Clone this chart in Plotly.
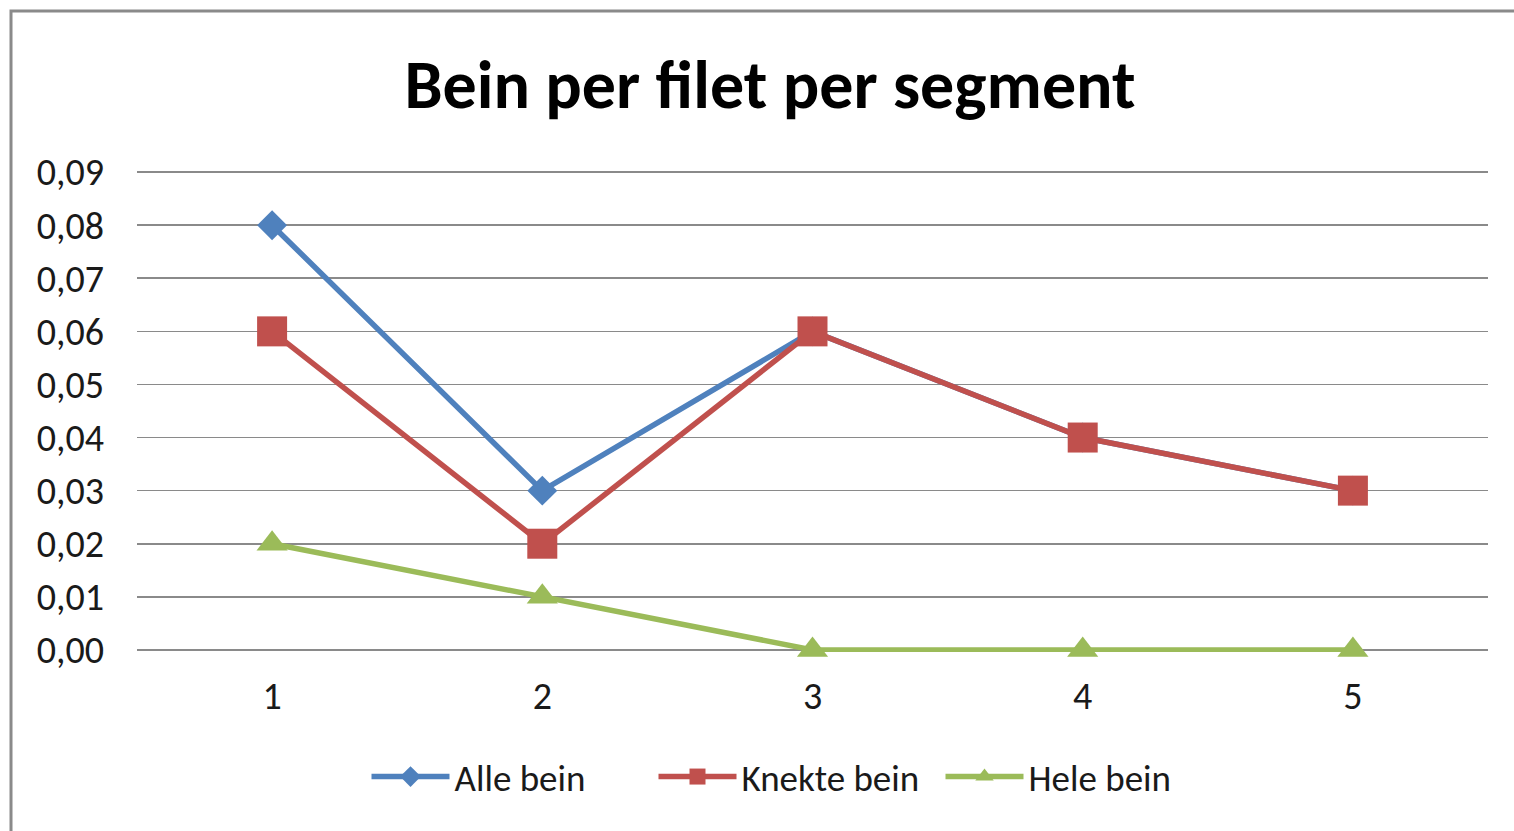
import plotly.graph_objects as go

categories = [1, 2, 3, 4, 5]
alle_bein = [0.08, 0.03, 0.06, 0.04, 0.03]
knekte_bein = [0.06, 0.02, 0.06, 0.04, 0.03]
hele_bein = [0.02, 0.01, 0.00, 0.00, 0.00]
y_ticks = [0.00, 0.01, 0.02, 0.03, 0.04, 0.05, 0.06, 0.07, 0.08, 0.09]
y_tick_labels = ["0,00", "0,01", "0,02", "0,03", "0,04", "0,05", "0,06", "0,07", "0,08", "0,09"]

FONT = "Carlito, Lato, sans-serif"

fig = go.Figure()
fig.add_trace(go.Scatter(
    x=categories, y=alle_bein, name="Alle bein", mode="lines+markers",
    line=dict(color="#4F81BD", width=5.5),
    marker=dict(symbol="diamond", size=23, color="#4F81BD"),
    cliponaxis=False,
))
fig.add_trace(go.Scatter(
    x=categories, y=knekte_bein, name="Knekte bein", mode="lines+markers",
    line=dict(color="#C0504D", width=5.5),
    marker=dict(symbol="square", size=30, color="#C0504D"),
    cliponaxis=False,
))
fig.add_trace(go.Scatter(
    x=categories, y=hele_bein, name="Hele bein", mode="lines+markers",
    line=dict(color="#9BBB59", width=5.5),
    marker=dict(symbol="triangle-up", size=27, color="#9BBB59"),
    cliponaxis=False,
))

fig.update_layout(
    width=1514, height=831,
    margin=dict(l=137, r=26, t=170, b=179),
    paper_bgcolor="white", plot_bgcolor="white",
    font=dict(family=FONT, size=38, color="#1a1a1a"),
    title=dict(
        text="<b>Bein per filet per segment</b>",
        font=dict(family=FONT, size=68, color="#000000"),
        x=770 / 1514, xref="container", xanchor="center",
        y=1 - 84 / 831, yref="container", yanchor="middle",
    ),
    showlegend=True,
    legend=dict(
        orientation="h",
        x=797 / 1514, xref="container", xanchor="center",
        y=1 - 777 / 831, yref="container", yanchor="middle",
        font=dict(family=FONT, size=37, color="#1a1a1a"),
        itemwidth=78,
        entrywidth=194, entrywidthmode="pixels",
        bgcolor="rgba(0,0,0,0)",
    ),
    xaxis=dict(
        range=[0.5, 5.5], tickmode="array", tickvals=categories,
        ticktext=[str(c) for c in categories],
        showgrid=False, zeroline=False, showline=False, ticks="",
        ticklabelstandoff=18,
        tickfont=dict(family=FONT, size=38, color="#1a1a1a"),
        fixedrange=True,
    ),
    yaxis=dict(
        range=[-0.0004, 0.0904], tickmode="array", tickvals=y_ticks, ticktext=y_tick_labels,
        showgrid=True, gridcolor="#8a8a8a", gridwidth=1.6,
        zeroline=False, showline=False, ticks="",
        ticklabelstandoff=32,
        tickfont=dict(family=FONT, size=38, color="#1a1a1a"),
        fixedrange=True,
    ),
)

# outer chart frame
fig.add_shape(
    type="rect", xref="paper", yref="paper",
    x0=(11 - 137) / 1351, x1=1.2, y0=-0.6, y1=(652 - 11) / 482,
    line=dict(color="#8a8a8a", width=3), fillcolor="rgba(0,0,0,0)", layer="below",
)

fig.write_html(
    "out.html",
    config={"displayModeBar": False, "staticPlot": True},
    post_script="document.body.style.margin='0';document.body.style.overflow='hidden';",
)
